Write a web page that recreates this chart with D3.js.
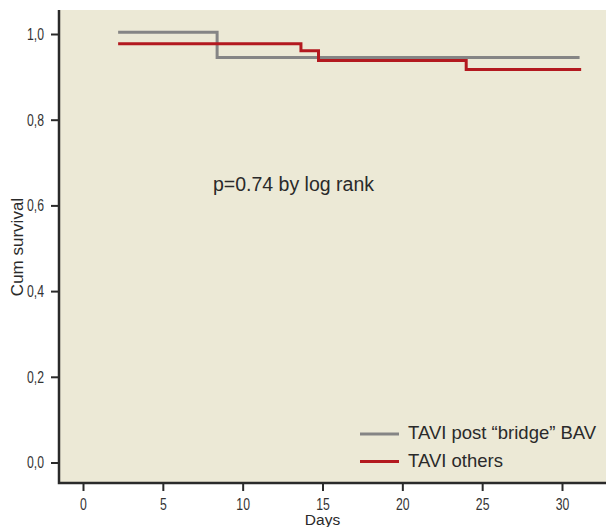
<!DOCTYPE html>
<html>
<head>
<meta charset="utf-8">
<script src="https://cdn.jsdelivr.net/npm/d3@7"></script>
<style>
  html, body { margin: 0; padding: 0; background: #fff; }
  svg { display: block; }
  .tick text { font-family: "Liberation Sans", Arial, sans-serif; font-size: 17px; fill: #333; }
</style>
</head>
<body>
<div id="chart"></div>
<script>
// step points
const bridgeDays = [2.2, 8.4, 31.1];
const bridgeSurv = [1.004, 0.945, 0.945];
const otherDays = [2.2, 13.65, 14.75, 24.0, 31.2];
const otherSurv = [0.977, 0.961, 0.938, 0.917, 0.917];
const xTicks = [0, 5, 10, 15, 20, 25, 30];
const yTicks = [0, 0.2, 0.4, 0.6, 0.8, 1.0];
const seriesNames = ['TAVI post \u201cbridge\u201d BAV', 'TAVI others'];
const seriesColors = ['#858585', '#b3191f'];

const W = 606, H = 527;
const panel = { left: 59, top: 10, right: 606, bottom: 483 };
const squeeze = 0.72; // tick labels are set in a condensed face

const svg = d3.select('#chart').append('svg')
  .attr('width', W)
  .attr('height', H);

const x = d3.scaleLinear().domain([0, 30]).range([83, 562]);
const y = d3.scaleLinear().domain([0, 1]).range([462.5, 34]);

// panel background
svg.append('rect')
  .attr('x', panel.left).attr('y', panel.top)
  .attr('width', panel.right - panel.left)
  .attr('height', panel.bottom - panel.top)
  .attr('fill', '#ece9d6');

const comma = d3.formatLocale({ decimal: ',', thousands: '.', grouping: [3], currency: ['', ''] }).format('.1f');

const yAxis = svg.append('g')
  .attr('transform', `translate(${panel.left},0)`)
  .call(d3.axisLeft(y).tickValues(yTicks).tickFormat(comma).tickSize(8).tickSizeOuter(0));
yAxis.select('.domain').remove();
yAxis.selectAll('.tick line').attr('stroke', '#2a2a2a').attr('stroke-width', 2);
yAxis.selectAll('.tick text')
  .attr('x', -15 / squeeze)
  .attr('transform', `scale(${squeeze},1)`);

const xAxis = svg.append('g')
  .attr('transform', `translate(0,${panel.bottom})`)
  .call(d3.axisBottom(x).tickValues(xTicks).tickSize(8).tickSizeOuter(0).tickPadding(7));
xAxis.select('.domain').remove();
xAxis.selectAll('.tick line').attr('stroke', '#2a2a2a').attr('stroke-width', 2);
xAxis.selectAll('.tick text').attr('transform', `scale(${squeeze},1)`);

// panel frame (left + bottom)
svg.append('path')
  .attr('d', `M${panel.left},${panel.top}V${panel.bottom}H${panel.right}`)
  .attr('fill', 'none')
  .attr('stroke', '#2a2a2a')
  .attr('stroke-width', 2.5);

const line = d3.line()
  .x(d => x(d[0]))
  .y(d => y(d[1]))
  .curve(d3.curveStepAfter);

const series = [
  d3.zip(bridgeDays, bridgeSurv),
  d3.zip(otherDays, otherSurv)
];

svg.selectAll('path.km')
  .data(series)
  .join('path')
  .attr('class', 'km')
  .attr('d', line)
  .attr('fill', 'none')
  .attr('stroke', (d, i) => seriesColors[i])
  .attr('stroke-width', 3);

// annotation
svg.append('text')
  .attr('x', 213).attr('y', 191)
  .attr('font-family', 'Liberation Sans, Arial, sans-serif')
  .attr('font-size', 19.5)
  .attr('fill', '#2a2a2a')
  .text('p=0.74 by log rank');

// legend
const legend = svg.append('g');
seriesNames.forEach((name, i) => {
  const ly = 434 + i * 27.5;
  legend.append('line')
    .attr('x1', 360).attr('x2', 399)
    .attr('y1', ly).attr('y2', ly)
    .attr('stroke', seriesColors[i])
    .attr('stroke-width', 3);
  legend.append('text')
    .attr('x', 408).attr('y', ly + 5)
    .attr('font-family', 'Liberation Sans, Arial, sans-serif')
    .attr('font-size', 18.5)
    .attr('fill', '#2a2a2a')
    .text(name);
});

// axis titles
svg.append('text')
  .attr('transform', `translate(23,247) rotate(-90)`)
  .attr('text-anchor', 'middle')
  .attr('font-family', 'Liberation Sans, Arial, sans-serif')
  .attr('font-size', 17)
  .attr('fill', '#2a2a2a')
  .text('Cum survival');

svg.append('text')
  .attr('x', x(15)).attr('y', 525)
  .attr('text-anchor', 'middle')
  .attr('font-family', 'Liberation Sans, Arial, sans-serif')
  .attr('font-size', 15.5)
  .attr('fill', '#2a2a2a')
  .text('Days');
</script>
</body>
</html>
